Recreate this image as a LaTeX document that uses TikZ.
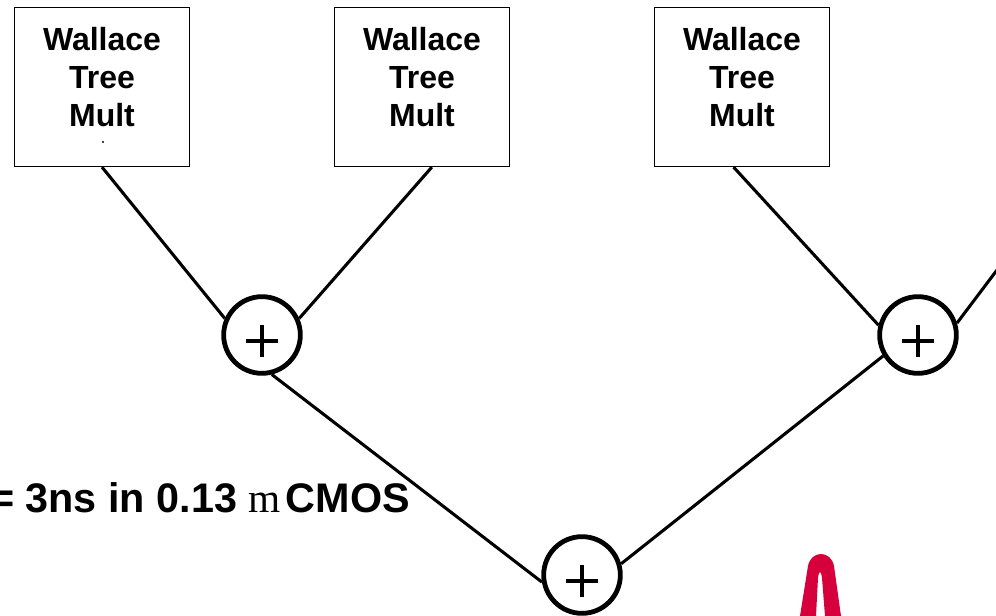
\documentclass[tikz,border=0pt]{standalone}
\usepackage{fontspec}
\setmainfont{Liberation Sans}
\newfontfamily\unitfont{Liberation Serif}
\definecolor{TreeInk}{HTML}{000000}
\definecolor{MarkRed}{HTML}{D6003C}

\begin{document}
\begin{tikzpicture}[
    x=0.75pt, y=-0.75pt,
    multbox/.style={
        draw=TreeInk,
        line width=1.2pt,
        minimum width=131pt,
        minimum height=119pt,
        inner sep=0pt
    },
    multlabel/.style={align=center, inner sep=0pt, text=TreeInk,
                      font=\fontsize{24}{28.5}\selectfont\bfseries},
    adder/.style={circle, draw=TreeInk, fill=white, line width=3.6pt,
                  minimum size=57.5pt, inner sep=0pt,
                  path picture={
                      \draw[line width=2.7pt]
                          ([yshift=-4.5pt]path picture bounding box.center)
                          +(-12pt,0) -- +(12pt,0) +(0,-12pt) -- +(0,12pt);
                  }},
    wire/.style={draw=TreeInk, line width=2.3pt}
]
    \useasboundingbox (0,0) rectangle (996,616);
    \clip (0,0) rectangle (996,616);

    % three multipliers
    \node[multbox] (mult1) at (102,87) {};
    \node[multbox] (mult2) at (422,87) {};
    \node[multbox] (mult3) at (742,87) {};
    \foreach \m in {mult1,mult2,mult3} {
        \node[multlabel] at ([yshift=7.2pt]\m.center) {Wallace\\Tree\\Mult};
    }
    \fill[TreeInk] (103,142) circle (0.8pt);

    % adder tree
    \node[adder] (add1) at (262,335) {};
    \node[adder] (add2) at (918,335) {};
    \node[adder] (add3) at (582,575) {};
    \coordinate (offpage) at (1000,266);

    \draw[wire] (mult1.south) -- (add1.156);
    \draw[wire] (mult2.-83) -- (add1.24);
    \draw[wire] (mult3.-96) -- (add2.166);
    \draw[wire] (add2.17) -- (offpage);
    \draw[wire] (add1.-76) -- (add3.190);
    \draw[wire] (add2.211) -- (add3.16);

    \node[anchor=base east, inner sep=0pt, text=TreeInk,
          font=\fontsize{31}{36}\selectfont\bfseries] (latency) at (410,512)
        {= 3ns in 0.13 {\unitfont\mdseries m}\hspace{0.12em}CMOS};

    \fill[MarkRed] (800,616) -- (808,566)
        .. controls (811,550) and (831,550) .. (834,566)
        -- (841,616) -- (825,616) -- (822,578)
        .. controls (821,570) and (819,570) .. (818,578)
        -- (816,616) -- cycle;
\end{tikzpicture}
\end{document}
